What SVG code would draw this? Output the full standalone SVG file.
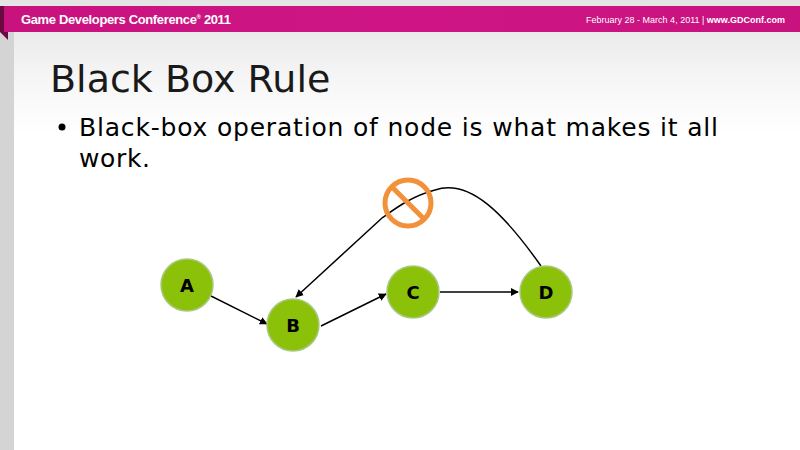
<svg xmlns="http://www.w3.org/2000/svg" width="800" height="450" viewBox="0 0 800 450">
<defs>
<linearGradient id="bg" x1="0" y1="0" x2="0" y2="1"><stop offset="0" stop-color="#e4e4e4"/><stop offset="0.18" stop-color="#f6f6f6"/><stop offset="0.3" stop-color="#ffffff"/></linearGradient>
<linearGradient id="band" x1="0" y1="0" x2="1" y2="0"><stop offset="0" stop-color="#c8127e"/><stop offset="0.5" stop-color="#cf1585"/><stop offset="1" stop-color="#c8127e"/></linearGradient>
<marker id="ar" viewBox="0 0 10 10" refX="9" refY="5" markerWidth="8" markerHeight="8" orient="auto" markerUnits="userSpaceOnUse"><path d="M0,0 L10,5 L0,10 Z" fill="#000"/></marker>
<style>
.n{fill:#8cc10a;stroke:#a8c880;stroke-width:1.5}
.l{font-family:"DejaVu Sans",sans-serif;font-weight:bold;font-size:18px;text-anchor:middle;fill:#000}
.c{fill:none;stroke:#000;stroke-width:1.5}
</style>
</defs>
<rect width="800" height="450" fill="url(#bg)"/>
<rect x="0" y="30" width="14" height="420" fill="#d4d4d4"/>
<polygon points="0,6 8,6 8,40 0,32" fill="#6a0a40"/>
<rect x="4" y="6" width="796" height="26" fill="url(#band)"/>
<text x="21" y="24" font-family="'Liberation Sans Narrow','Liberation Sans',sans-serif" font-weight="bold" font-size="13" fill="#fff" textLength="210">Game Developers Conference<tspan font-size="6" dy="-5">®</tspan><tspan dy="5"> 2011</tspan></text>
<text x="785" y="23" text-anchor="end" font-family="'Liberation Sans',sans-serif" font-size="9" fill="#fff">February 28 - March 4, 2011 | <tspan font-weight="bold">www.GDConf.com</tspan></text>
<text x="50" y="92" font-family="'DejaVu Sans',sans-serif" font-size="38" fill="#1a1a1a">Black Box Rule</text>
<circle cx="62" cy="127" r="3.5" fill="#000"/>
<text font-family="'DejaVu Sans',sans-serif" font-size="25" fill="#000"><tspan x="79" y="136" textLength="639">Black-box operation of node is what makes it all</tspan><tspan x="79" y="167" textLength="71">work.</tspan></text>
<g id="connectors">
<path class="c" d="M205,293 L267,324" marker-end="url(#ar)"/>
<path class="c" d="M321,326 L386,294" marker-end="url(#ar)"/>
<path class="c" d="M440,292 L518,292" marker-end="url(#ar)"/>
<path class="c" d="M541,266 C505,215 470,178 435,190 C412,196 396,208 382,218 L296,297" marker-end="url(#ar)"/>
</g>
<g id="stop"><circle cx="408" cy="203" r="23" fill="none" stroke="#f2913a" stroke-width="5"/><line x1="392" y1="187" x2="424" y2="219" stroke="#f2913a" stroke-width="5"/></g>
<g id="A"><circle class="n" cx="187" cy="285" r="26"/><text class="l" x="187" y="292">A</text></g>
<g id="B"><circle class="n" cx="293" cy="325" r="26"/><text class="l" x="293" y="332">B</text></g>
<g id="C"><circle class="n" cx="413" cy="292" r="26"/><text class="l" x="413" y="299">C</text></g>
<g id="D"><circle class="n" cx="546" cy="292" r="26"/><text class="l" x="546" y="299">D</text></g>
</svg>
